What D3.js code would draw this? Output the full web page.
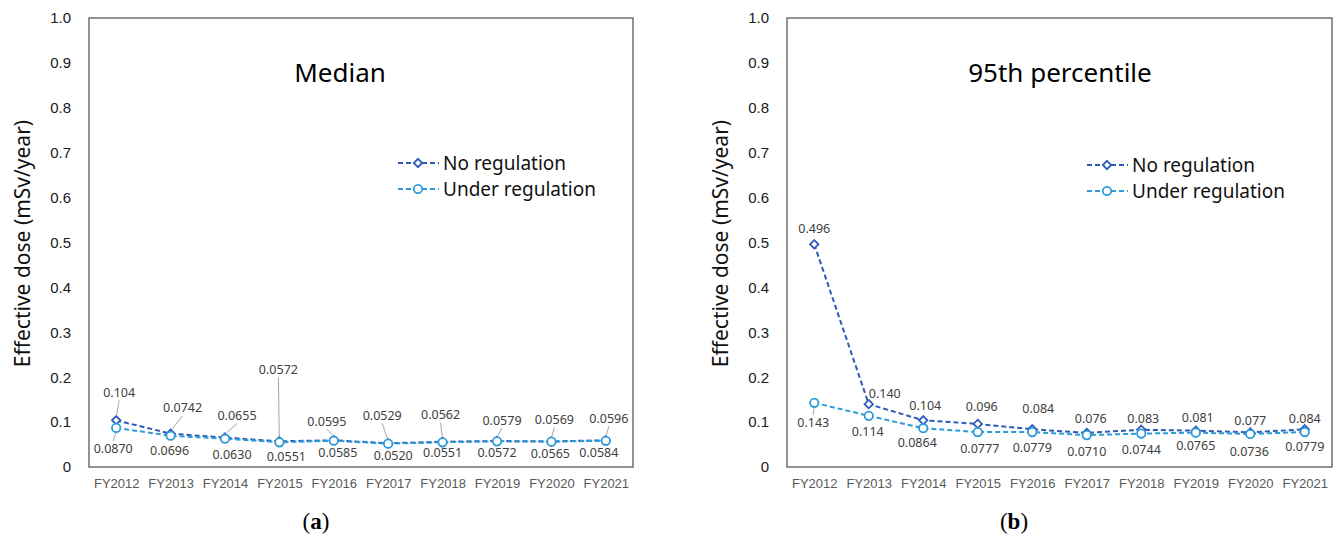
<!DOCTYPE html>
<html lang="en">
<head>
  <meta charset="UTF-8" />
  <title>Effective dose by fiscal year</title>
  <script src="https://d3js.org/d3.v7.min.js"></script>
  <style>
    body {
      margin: 0;
      background-color: #ffffff;
      font-family: 'Noto Sans', sans-serif;
    }

    .tick-label {
      font-size: 15px;
      fill: #1a1a1a;
    }

    .cat-label {
      font-size: 13px;
      fill: #595959;
    }

    .data-label {
      font-size: 12.5px;
      fill: #404040;
    }

    .line-path {
      fill: none;
      stroke-width: 2;
      stroke-dasharray: 5 3;
    }
  </style>
</head>
<body>

  <div id="dose-chart"></div>

  <script>
    // categories
    const years = ["FY2012", "FY2013", "FY2014", "FY2015", "FY2016", "FY2017", "FY2018", "FY2019", "FY2020", "FY2021"];

    // median effective dose (mSv/year)
    const medianNoReg = [0.104, 0.0742, 0.0655, 0.0572, 0.0595, 0.0529, 0.0562, 0.0579, 0.0569, 0.0596];
    const medianUnderReg = [0.0870, 0.0696, 0.0630, 0.0551, 0.0585, 0.0520, 0.0551, 0.0572, 0.0565, 0.0584];

    // 95th percentile effective dose (mSv/year)
    const p95NoReg = [0.496, 0.140, 0.104, 0.096, 0.084, 0.076, 0.083, 0.081, 0.077, 0.084];
    const p95UnderReg = [0.143, 0.114, 0.0864, 0.0777, 0.0779, 0.0710, 0.0744, 0.0765, 0.0736, 0.0779];

    const yTicks = [0, 0.1, 0.2, 0.3, 0.4, 0.5, 0.6, 0.7, 0.8, 0.9, 1.0];
    const yTickLabels = ["0", "0.1", "0.2", "0.3", "0.4", "0.5", "0.6", "0.7", "0.8", "0.9", "1.0"];

    const seriesNames = ["No regulation", "Under regulation"];

    // label placement, relative to each point [dx, dy]
    const medianNoRegOffsets = [[3, -28], [12, -26], [12, -22], [-1, -72], [-7, -19], [-6, -28], [-2, -27], [5, -21], [3, -22], [3, -22]];
    const medianUnderRegOffsets = [[-3, 21], [-1, 15], [7, 16], [7, 14], [4, 12], [5, 12], [0, 10], [0, 11], [-1, 12], [-7, 12]];
    const p95NoRegOffsets = [[0, -16], [16, -11], [2, -15], [4, -17], [6, -21], [4, -14], [2, -11], [2, -13], [0, -12], [0, -11]];
    const p95UnderRegOffsets = [[-1, 20], [-1, 16], [-6, 14], [2, 16], [0, 15], [0, 16], [0, 16], [0, 13], [-1, 18], [0, 14]];

    const colors = { noReg: "#2f5bb7", underReg: "#2e9bd8" };

    function drawDoseFigure() {
      const svg = d3.select("#dose-chart")
        .append("svg")
        .attr("width", 1341)
        .attr("height", 538);

      const panels = [
        {
          left: 89, right: 633, title: "Median", titleX: 340, axisTitleX: 22, tag: "a", tagX: 316,
          legendX: 398, legendY: 163,
          noReg: medianNoReg, underReg: medianUnderReg,
          noRegFmt: d3.format(".3r"), underRegFmt: d3.format(".3r"),
          noRegOffsets: medianNoRegOffsets, underRegOffsets: medianUnderRegOffsets,
          noRegLeader: 18, underRegLeader: 18
        },
        {
          left: 787, right: 1332, title: "95th percentile", titleX: 1060, axisTitleX: 720, tag: "b", tagX: 1014,
          legendX: 1087, legendY: 165,
          noReg: p95NoReg, underReg: p95UnderReg,
          noRegFmt: d3.format(".3f"), underRegFmt: d3.format(".3r"),
          noRegOffsets: p95NoRegOffsets, underRegOffsets: p95UnderRegOffsets,
          noRegLeader: Infinity, underRegLeader: 19
        }
      ];

      panels.forEach(p => drawPanel(svg, p));
    }

    function drawPanel(svg, p) {
      const top = 18;
      const bottom = 467;

      const x = d3.scalePoint()
        .domain(years)
        .range([p.left, p.right])
        .padding(0.5);

      const y = d3.scaleLinear()
        .domain([0, 1])
        .range([bottom, top]);

      // y axis labels
      const yAxis = svg.append("g")
        .attr("transform", `translate(${p.left - 18},0)`)
        .call(d3.axisLeft(y).tickValues(yTicks).tickSize(0).tickPadding(0)
          .tickFormat((d, i) => yTickLabels[i]));
      yAxis.select(".domain").remove();
      yAxis.selectAll("text")
        .attr("class", "tick-label")
        .attr("font-family", null)
        .attr("font-size", null)
        .attr("fill", null);

      // x axis labels
      const xAxis = svg.append("g")
        .attr("transform", `translate(0,${bottom})`)
        .call(d3.axisBottom(x).tickSize(0).tickPadding(12));
      xAxis.select(".domain").remove();
      xAxis.selectAll("text")
        .attr("class", "cat-label")
        .attr("font-family", null)
        .attr("font-size", null)
        .attr("fill", null);

      // frame
      svg.append("rect")
        .attr("x", p.left)
        .attr("y", top)
        .attr("width", p.right - p.left)
        .attr("height", bottom - top)
        .attr("fill", "none")
        .attr("stroke", "#595959")
        .attr("stroke-width", 1.3);

      // axis title
      svg.append("text")
        .attr("transform", `translate(${p.axisTitleX},${(top + bottom) / 2 + 1}) rotate(-90)`)
        .attr("text-anchor", "middle")
        .attr("dominant-baseline", "central")
        .attr("font-size", 21)
        .attr("fill", "#111")
        .text("Effective dose (mSv/year)");

      // panel title
      svg.append("text")
        .attr("x", p.titleX)
        .attr("y", 82)
        .attr("text-anchor", "middle")
        .attr("font-size", 26)
        .attr("fill", "#000")
        .text(p.title);

      // panel tag
      const tag = svg.append("text")
        .attr("x", p.tagX)
        .attr("y", 529)
        .attr("text-anchor", "middle")
        .attr("font-family", "'Liberation Serif', serif")
        .attr("font-size", 23)
        .attr("fill", "#000");
      tag.append("tspan").text("(");
      tag.append("tspan").attr("font-weight", "bold").text(p.tag);
      tag.append("tspan").text(")");

      plotSeries(svg, p.noReg, x, y, colors.noReg, "diamond");
      plotSeries(svg, p.underReg, x, y, colors.underReg, "circle");

      addLabels(svg, p.noReg, x, y, p.noRegOffsets, p.noRegFmt, p.noRegLeader);
      addLabels(svg, p.underReg, x, y, p.underRegOffsets, p.underRegFmt, p.underRegLeader);

      createLegend(svg, p.legendX, p.legendY);
    }

    function plotSeries(svg, values, x, y, color, shape) {
      const line = d3.line()
        .x((d, i) => x(years[i]))
        .y(d => y(d));

      svg.append("path")
        .datum(values)
        .attr("class", "line-path")
        .attr("stroke", color)
        .attr("d", line);

      svg.selectAll(null)
        .data(values)
        .enter()
        .append("path")
        .attr("d", markerPath(shape))
        .attr("transform", (d, i) => `translate(${x(years[i])},${y(d)})`)
        .attr("fill", "#fff")
        .attr("stroke", color)
        .attr("stroke-width", 1.8);
    }

    function markerPath(shape) {
      if (shape === "diamond") {
        return "M0,-4.2L4.2,0L0,4.2L-4.2,0Z";
      }
      return d3.symbol().type(d3.symbolCircle).size(56)();
    }

    function addLabels(svg, values, x, y, offsets, fmt, leaderMin) {
      values.forEach((v, i) => {
        const px = x(years[i]);
        const py = y(v);
        const [dx, dy] = offsets[i];

        if (Math.abs(dy) >= leaderMin) {
          const dir = dy < 0 ? -1 : 1;
          svg.append("line")
            .attr("x1", px + dx)
            .attr("y1", py + dy - dir * 8)
            .attr("x2", px + dx * 0.15)
            .attr("y2", py + dir * 5)
            .attr("stroke", "#a6a6a6")
            .attr("stroke-width", 1);
        }

        svg.append("text")
          .attr("class", "data-label")
          .attr("x", px + dx)
          .attr("y", py + dy)
          .attr("text-anchor", "middle")
          .attr("dominant-baseline", "central")
          .text(fmt(v));
      });
    }

    function createLegend(svg, lx, ly) {
      const items = [
        { label: seriesNames[0], color: colors.noReg, shape: "diamond" },
        { label: seriesNames[1], color: colors.underReg, shape: "circle" }
      ];

      const legend = svg.selectAll(null)
        .data(items)
        .enter()
        .append("g")
        .attr("transform", (d, i) => `translate(${lx},${ly + i * 26})`);

      legend.append("line")
        .attr("x1", 0)
        .attr("x2", 41)
        .attr("stroke", d => d.color)
        .attr("stroke-width", 2)
        .attr("stroke-dasharray", "5 3");

      legend.append("path")
        .attr("d", d => markerPath(d.shape))
        .attr("transform", "translate(20,0)")
        .attr("fill", "#fff")
        .attr("stroke", d => d.color)
        .attr("stroke-width", 1.8);

      legend.append("text")
        .attr("x", 45)
        .attr("dy", "0.35em")
        .attr("font-size", 19)
        .attr("fill", "#111")
        .text(d => d.label);
    }

    drawDoseFigure();
  </script>

</body>
</html>
